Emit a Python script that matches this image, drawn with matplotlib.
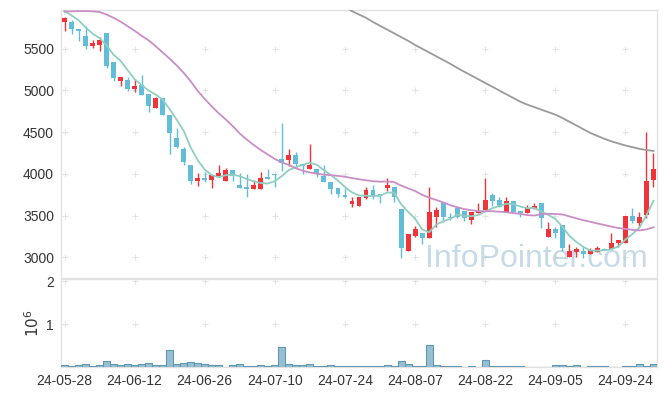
import numpy as np
import pandas as pd
import matplotlib
matplotlib.use("Agg")
import matplotlib.pyplot as plt

# ---- data ----
opens  = [5815,5826,5736,5655,5527,5546,5686,5338,5114,5126,5014,5062,4955,4787,4907,4706,4427,4295,4107,3918,
          3947,3927,3975,3918,4047,3867,3847,3823,3823,3955,3999,4175,4167,4227,4119,4059,4055,3975,3907,3831,
          3739,3643,3619,3715,3807,3759,3835,3847,3575,3079,3255,3287,3235,3487,3667,3487,3587,3555,3447,3527,
          3567,3747,3687,3547,3675,3555,3535,3579,3647,3247,3339,3387,3007,3067,3075,3039,3067,3103,3095,3175,
          3167,3495,3415,3507,3927]
closes = [5868,5736,5707,5527,5563,5606,5298,5146,5158,5014,5054,4950,4818,4914,4711,4487,4319,4146,3918,3947,
          3927,3987,4015,4047,3975,3835,3823,3867,3951,3943,3983,4127,4227,4115,4095,4107,3999,3907,3819,3763,
          3727,3675,3719,3807,3739,3743,3871,3719,3115,3279,3335,3227,3543,3567,3487,3471,3487,3467,3547,3559,
          3687,3679,3607,3675,3543,3535,3587,3615,3467,3339,3295,3115,3075,3095,3039,3087,3107,3087,3167,3207,
          3495,3439,3479,3915,4059]
highs  = [5884,5847,5740,5767,5606,5646,5686,5338,5158,5158,5142,5190,4955,4926,4914,4706,4547,4326,4107,4007,
          4027,3987,4107,4067,4047,4015,3999,3927,4027,4055,3999,4607,4295,4259,4119,4359,4055,4103,3907,3831,
          3827,3727,3719,3839,3867,3759,3947,3847,3575,3279,3375,3287,3839,3599,3667,3535,3599,3555,3547,3647,
          3947,3775,3727,3727,3675,3555,3627,3647,3647,3427,3367,3387,3155,3127,3119,3107,3135,3110,3287,3207,
          3495,3595,3547,4499,4247]
lows   = [5715,5676,5587,5495,5503,5477,5266,5118,5054,4998,4986,4946,4739,4787,4700,4235,4310,4107,3879,3859,
          3907,3827,3975,3918,3918,3827,3719,3823,3823,3943,3847,4039,4095,4067,3999,4059,3959,3907,3755,3727,
          3707,3599,3619,3695,3695,3647,3799,3667,2988,3079,3239,3155,3235,3367,3427,3447,3467,3439,3399,3527,
          3567,3619,3607,3547,3543,3479,3535,3579,3347,3247,3227,3079,3007,3007,2988,3039,3067,3087,3095,3127,
          3167,3407,3367,3467,3847]
volumes = [45000,20000,45000,70000,20000,45000,136000,70000,45000,70000,45000,70000,90000,45000,45000,386000,
           70000,90000,114000,90000,70000,45000,45000,0,45000,70000,20000,20000,45000,20000,45000,455000,70000,
           45000,45000,70000,20000,20000,45000,20000,20000,20000,20000,20000,20000,20000,45000,20000,136000,70000,
           20000,20000,520000,45000,20000,20000,20000,0,20000,0,160000,20000,20000,20000,20000,20000,0,0,0,0,
           45000,45000,20000,45000,0,20000,20000,20000,0,0,20000,20000,70000,20000,70000,1850000,700000][:85]
# closes before the first visible day (only used for the 5-day average)
prior_closes = [6000, 5990, 5960, 5940]
# 20-day average for the first 19 visible days (needs history not shown)
ma20_head = [5945,5948,5950,5950,5948,5940,5910,5870,5825,5770,5715,5655,5600,5530,5455,5380,5300,5210,5110]
# 60-day average (index 39..84)
ma60_start = 39
ma60_vals = [6050,6000,5950,5910,5870,5820,5775,5730,5685,5640,5595,5545,5500,5455,5410,5365,5320,5270,5225,
             5180,5135,5090,5045,5000,4955,4910,4865,4830,4800,4770,4740,4710,4670,4625,4580,4535,4490,4455,
             4420,4390,4365,4340,4320,4300,4285,4275]
tick_idx = [0, 10, 20, 30, 40, 50, 60, 70, 80]
tick_labels = ['24-05-28','24-06-12','24-06-26','24-07-10','24-07-24','24-08-07','24-08-22','24-09-05','24-09-24']
price_ticks = [3000, 3500, 4000, 4500, 5000, 5500]
vol_ticks = [1, 2]

n = len(closes)
x = np.arange(n)
o = np.array(opens); c = np.array(closes); h = np.array(highs); l = np.array(lows)
v = np.array(volumes[:n]) / 1e6

allc = pd.Series(prior_closes + closes)
ma5 = allc.rolling(5).mean().values[len(prior_closes):]
ma20_full = pd.Series(closes).rolling(20).mean().values
ma20 = np.array(ma20_head + list(ma20_full[len(ma20_head):]))
ma60 = np.full(n, np.nan)
ma60[ma60_start:ma60_start + len(ma60_vals)] = ma60_vals

UP = '#f0353a'
DOWN = '#62bed8'
GRIDC = '#e4e4e4'
SPINEC = '#e2e2e2'
TEXTC = '#333333'

plt.rcParams['font.family'] = ['Liberation Sans', 'DejaVu Sans']

fig = plt.figure(figsize=(6.65, 3.96), dpi=100)
W, H = 665, 396
axp = fig.add_axes([61/W, 1-278/H, (657-61)/W, (278-10)/H])
axv = fig.add_axes([61/W, 1-367/H, (657-61)/W, (367-279)/H])

up = c >= o
col = np.where(up, UP, DOWN)
axp.vlines(x, l, h, colors=col, linewidth=1.0, zorder=3)
body_lo = np.minimum(o, c)
body_h = np.maximum(np.abs(c - o), 14)
axp.bar(x, body_h, bottom=body_lo, width=0.7, color=col, linewidth=0, zorder=4)

axp.plot(x, ma5, color='#8fcfc2', lw=1.3, zorder=5)
axp.plot(x, ma20, color='#c98ec6', lw=1.3, zorder=5)
axp.plot(x, ma60, color='#9a9a9a', lw=1.3, zorder=5)

axp.set_xlim(-0.5, n - 0.5)
axp.set_ylim(2752, 5964)
axp.set_yticks(price_ticks)
axp.set_xticks([])
gx, gy = np.meshgrid(tick_idx, price_ticks)
axp.scatter(gx.ravel(), gy.ravel(), marker='+', s=14, color=GRIDC, linewidths=0.8, zorder=1)

axp.text(0.985, 0.015, 'InfoPointer.com', transform=axp.transAxes, ha='right', va='bottom',
         fontsize=23, color='#b4cfdf', alpha=0.75, zorder=2)

axv.bar(x, v, width=1.0, color='#97bfd1', edgecolor='#5f98b3', linewidth=0.8, zorder=3)
axv.set_xlim(-0.5, n - 0.5)
axv.set_ylim(0, 2.05)
axv.set_yticks(vol_ticks)
axv.set_yticklabels(['1', '2'])
axv.set_xticks(tick_idx)
axv.set_xticklabels(tick_labels)
gx, gy = np.meshgrid(tick_idx, vol_ticks)
axv.scatter(gx.ravel(), gy.ravel(), marker='+', s=14, color=GRIDC, linewidths=0.8, zorder=1)
axv.set_ylabel(r'$10^{6}$', fontsize=11, color=TEXTC, labelpad=3)

for ax in (axp, axv):
    for s in ax.spines.values():
        s.set_color(SPINEC)
        s.set_linewidth(1.0)
    ax.tick_params(length=0, labelsize=10, labelcolor=TEXTC, pad=5)

fig.savefig('out.png', dpi=100)
